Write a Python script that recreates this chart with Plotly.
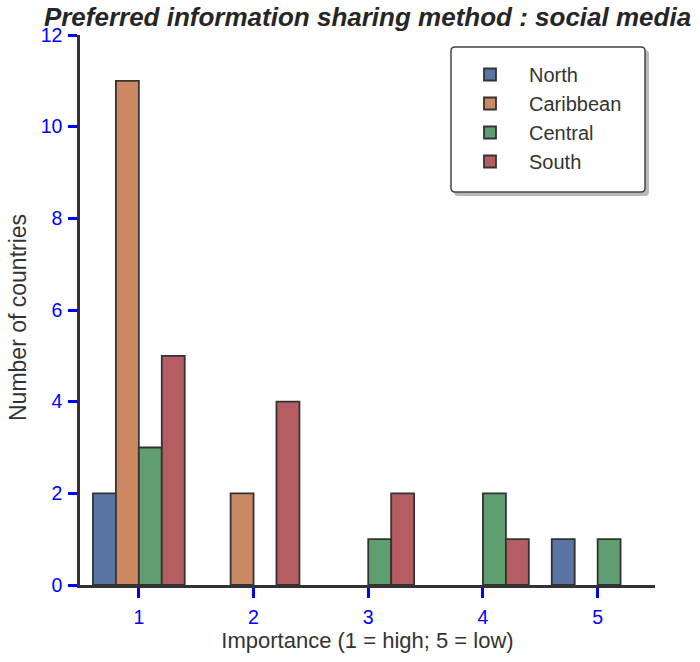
import plotly.graph_objects as go

categories = [1, 2, 3, 4, 5]
north = [2, 0, 0, 0, 1]
caribbean = [11, 2, 0, 0, 0]
central = [3, 0, 1, 2, 1]
south = [5, 4, 2, 1, 0]
y_ticks = [0, 2, 4, 6, 8, 10, 12]

series = [
    ("North", north, "#5975a4"),
    ("Caribbean", caribbean, "#cc8963"),
    ("Central", central, "#5f9e6e"),
    ("South", south, "#b55d60"),
]

fig = go.Figure()
for name, vals, col in series:
    fig.add_trace(go.Bar(
        x=categories, y=[v if v != 0 else None for v in vals], name=name,
        marker=dict(color=col, line=dict(color="#333333", width=1.8)),
    ))

font = "Liberation Sans, Arial, sans-serif"
W, H = 700, 662
L, R, T, B = 80, 45, 35, 77
PW, PH = W - L - R, H - T - B

def px(xpage):
    return (xpage - L) / PW

def py(ypage):
    return (H - B - ypage) / PH

# legend frame (rounded box + shadow) in paper units
def rounded(x0, y0, x1, y1, r=4):
    rx, ry = r / PW, r / PH
    X0, X1 = px(x0), px(x1)
    Y0, Y1 = py(y1), py(y0)  # bottom, top
    return (f"M{X0+rx},{Y1} L{X1-rx},{Y1} Q{X1},{Y1} {X1},{Y1-ry} "
            f"L{X1},{Y0+ry} Q{X1},{Y0} {X1-rx},{Y0} L{X0+rx},{Y0} "
            f"Q{X0},{Y0} {X0},{Y0+ry} L{X0},{Y1-ry} Q{X0},{Y1} {X0+rx},{Y1} Z")

shapes = [
    dict(type="path", xref="paper", yref="paper", path=rounded(454, 50, 649, 196),
         fillcolor="rgba(0,0,0,0.28)", line=dict(width=0), layer="above"),
    dict(type="path", xref="paper", yref="paper", path=rounded(451, 47, 645, 192),
         fillcolor="white", line=dict(color="#444444", width=1.5), layer="above"),
]

fig.update_layout(
    width=W, height=H,
    margin=dict(l=L, r=R, t=T, b=B, autoexpand=False),
    paper_bgcolor="white", plot_bgcolor="white",
    barmode="group", bargap=0.2, bargroupgap=0,
    font=dict(family=font, color="#333333"),
    title=dict(
        text="<b><i>Preferred information sharing method : social media</i></b>",
        font=dict(size=26, color="#262626", family=font),
        x=(L + PW / 2) / W, xanchor="center",
        y=1 - 17 / H, yanchor="middle",
    ),
    xaxis=dict(
        range=[0.487, 5.5], tickvals=categories, ticktext=[str(c) for c in categories],
        showgrid=False, zeroline=False, automargin=False,
        showline=True, linecolor="#333333", linewidth=2.5,
        ticks="outside", ticklen=10, tickwidth=2.5, tickcolor="#0000ff",
        ticklabelstandoff=3,
        tickfont=dict(size=19.5, color="#0000ff", family=font),
        title=dict(text="Importance (1 = high; 5 = low)", font=dict(size=22, color="#333333", family=font), standoff=4),
    ),
    yaxis=dict(
        range=[0, 12], tickvals=y_ticks,
        showgrid=False, zeroline=False, automargin=False,
        showline=True, linecolor="#333333", linewidth=2.5,
        ticks="outside", ticklen=9, tickwidth=2.5, tickcolor="#0000ff",
        ticklabelstandoff=2,
        tickfont=dict(size=19.5, color="#0000ff", family=font),
    ),
    annotations=[dict(
        text="Number of countries", textangle=-90, showarrow=False,
        xref="paper", yref="paper", x=(18 - L) / PW, y=py(318),
        xanchor="center", yanchor="middle",
        font=dict(size=23, color="#333333", family=font),
    )],
    legend=dict(
        x=px(451), y=py(55),
        xanchor="left", yanchor="top",
        bgcolor="rgba(0,0,0,0)", borderwidth=0,
        font=dict(size=20, color="#333333", family=font),
        itemwidth=68, traceorder="normal",
    ),
    shapes=shapes,
)

fig.write_html("out.html", config={"displayModeBar": False},
               post_script="document.body.style.margin='0';")
